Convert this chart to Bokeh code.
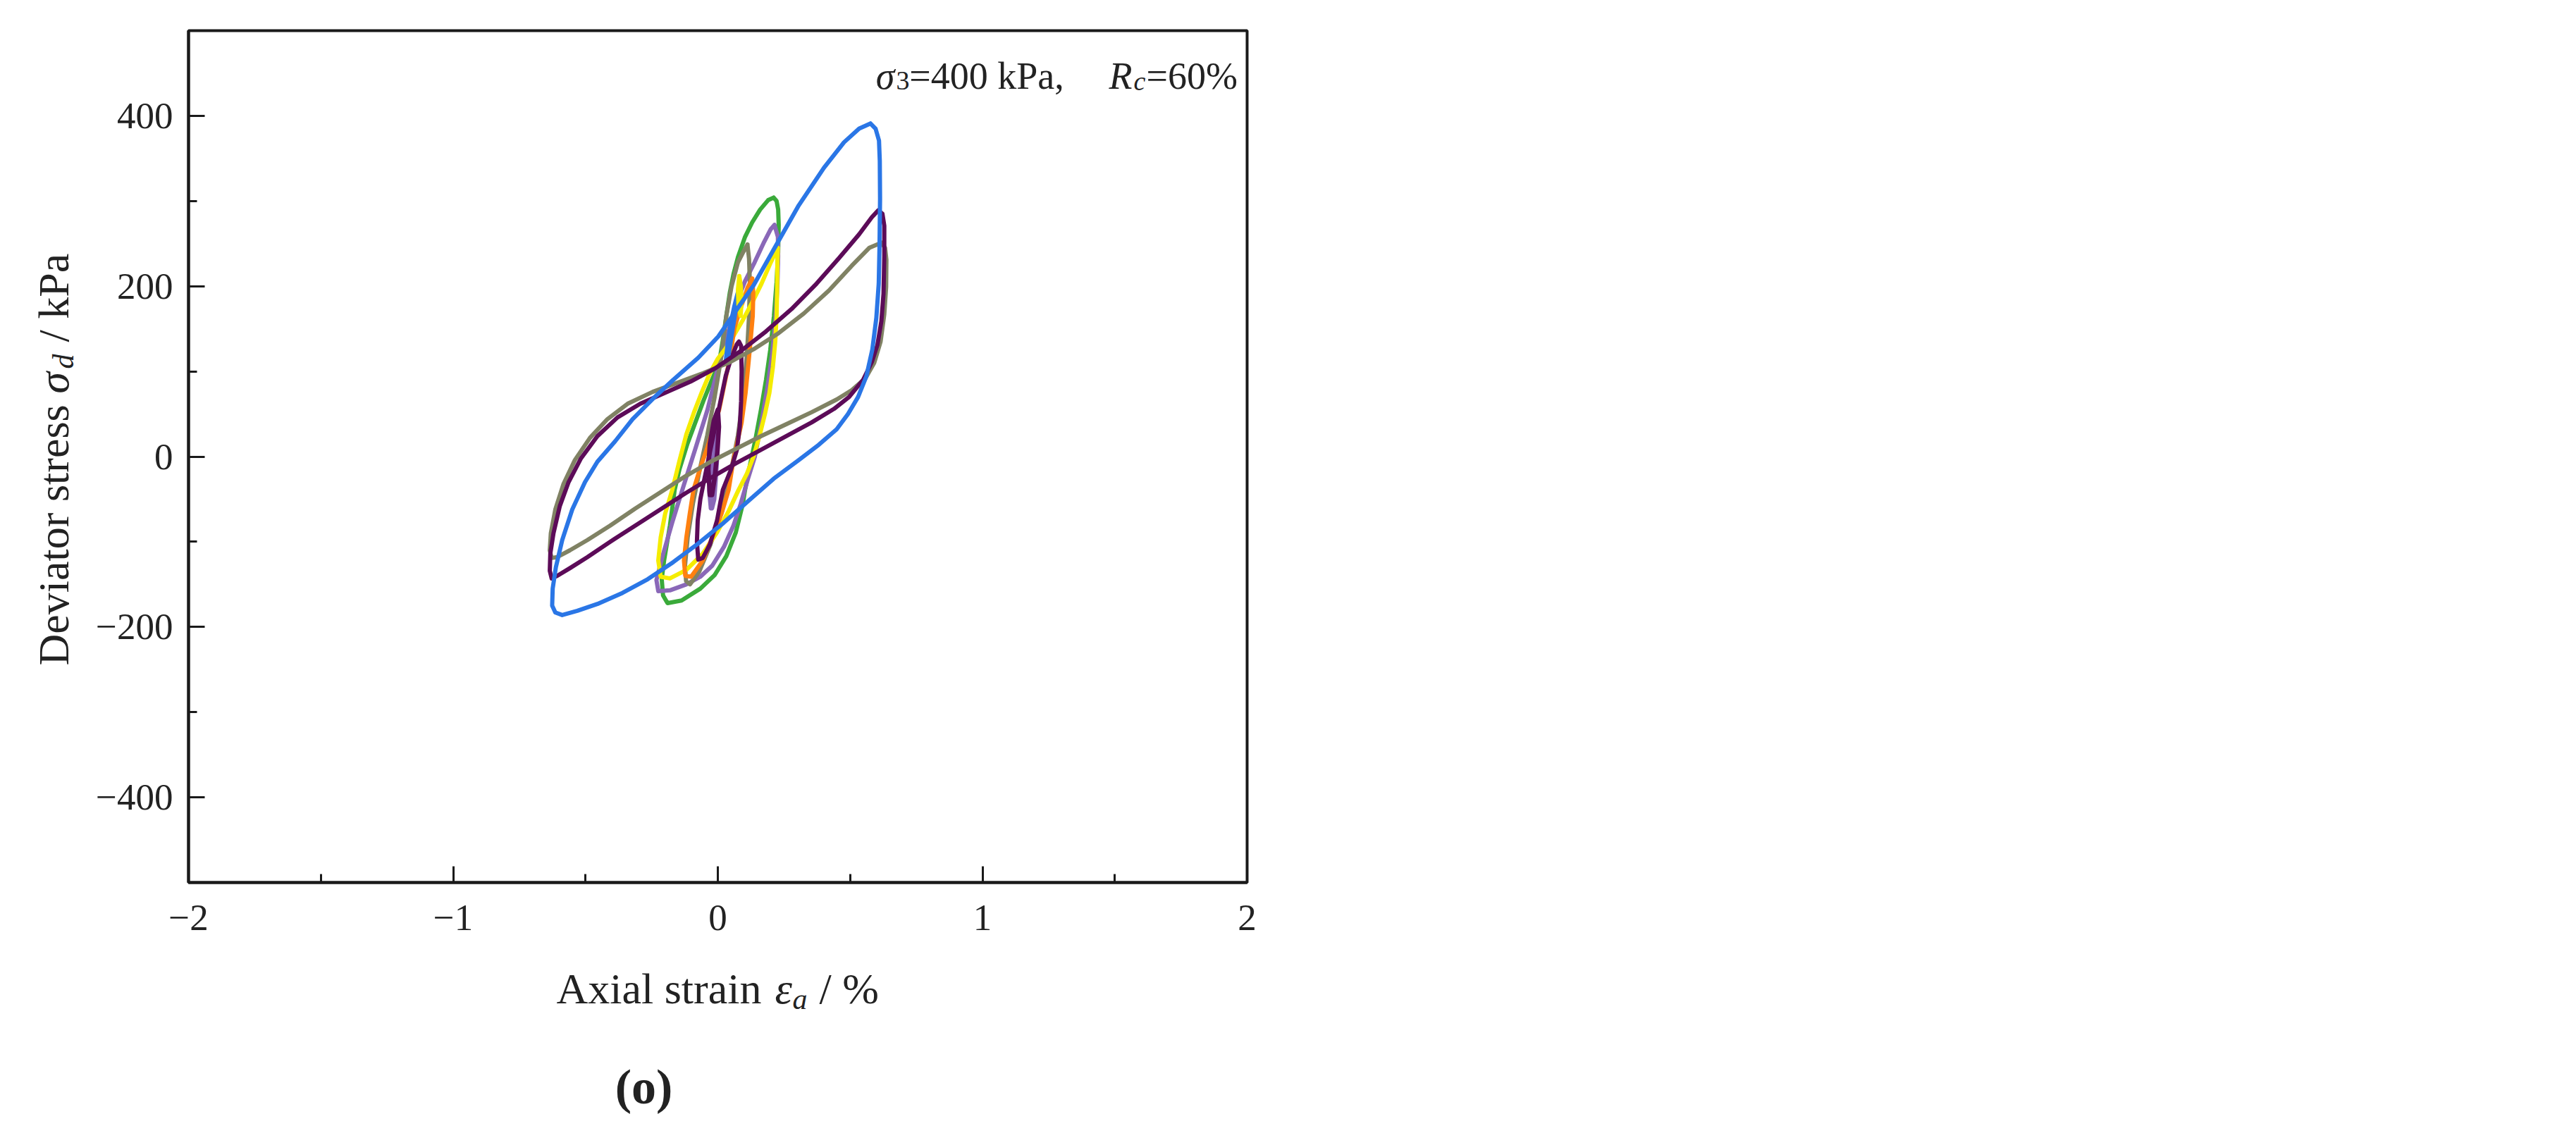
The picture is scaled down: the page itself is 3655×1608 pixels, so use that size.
import numpy as np
from bokeh.plotting import figure
from bokeh.models import Range1d, FixedTicker, Label
from bokeh.layouts import row, column
from bokeh.embed import file_html
from bokeh.resources import INLINE

# ---- data: closed hysteresis loops (axial strain %, deviator stress kPa) ----
blue_loop = [(0.577,391),(0.596,385),(0.609,371),(0.612,347),(0.613,303),(0.611,247),(0.608,203),
             (0.599,163),(0.584,126),(0.561,94),(0.530,70),(0.492,50),(0.449,32),(0.382,14),(0.306,-4),
             (0.211,-26),(0.116,-52),(0.021,-78),(-0.074,-102),(-0.169,-124),(-0.265,-144),(-0.360,-160),
             (-0.455,-173),(-0.531,-181),(-0.588,-186),(-0.614,-183),(-0.626,-175),(-0.624,-155),
             (-0.612,-130),(-0.588,-98),(-0.550,-62),(-0.502,-30),(-0.455,-6),(-0.388,18),(-0.322,44),
             (-0.245,68),(-0.169,90),(-0.074,116),(0.002,141),(0.068,171),(0.135,201),(0.211,243),
             (0.306,295),(0.401,339),(0.477,369),(0.534,385),(0.577,391)]
purple_loop = [(0.606,289),(0.622,285),(0.629,271),(0.629,235),(0.626,191),(0.618,159),(0.603,131),
               (0.582,111),(0.549,90),(0.496,70),(0.439,56),(0.354,40),(0.259,24),(0.163,8),(0.068,-8),
               (-0.027,-25),(-0.122,-43),(-0.217,-62),(-0.312,-81),(-0.407,-100),(-0.493,-118),
               (-0.559,-131),(-0.607,-140),(-0.628,-143),(-0.635,-134),(-0.633,-114),(-0.621,-90),
               (-0.597,-58),(-0.564,-30),(-0.517,-2),(-0.455,24),(-0.379,46),(-0.293,62),(-0.198,75),
               (-0.103,88),(-0.008,104),(0.087,124),(0.182,147),(0.278,173),(0.373,203),(0.458,233),
               (0.534,261),(0.582,281),(0.606,289)]
olive_loop = [(0.618,251),(0.632,245),(0.637,231),(0.636,199),(0.629,167),(0.615,135),(0.591,110),
              (0.558,92),(0.506,78),(0.449,67),(0.354,52),(0.259,38),(0.163,24),(0.068,9),(-0.027,-6),
              (-0.122,-23),(-0.217,-42),(-0.312,-61),(-0.407,-81),(-0.493,-98),(-0.559,-110),
              (-0.607,-118),(-0.628,-119),(-0.635,-110),(-0.631,-90),(-0.614,-62),(-0.583,-32),
              (-0.540,-4),(-0.483,22),(-0.417,44),(-0.341,62),(-0.246,76),(-0.150,87),(-0.055,98),
              (0.040,110),(0.135,126),(0.230,145),(0.325,168),(0.420,195),(0.506,224),(0.572,245),
              (0.618,251)]
green_loop = [(0.211,304),(0.222,300),(0.228,290),(0.230,272),(0.228,240),(0.222,205),(0.212,165),
              (0.198,125),(0.182,90),(0.163,55),(0.142,20),(0.120,-12),(0.103,-39),(0.094,-56),
              (0.068,-89),(0.032,-117),(-0.012,-139),(-0.066,-155),(-0.137,-169),(-0.190,-172),
              (-0.207,-163),(-0.212,-144),(-0.203,-122),(-0.181,-81),(-0.163,-39),(-0.145,-15),
              (-0.115,15),(-0.085,40),(-0.055,65),(-0.025,88),(0.005,110),(0.019,137),(0.032,165),
              (0.045,192),(0.059,214),(0.076,234),(0.103,258),(0.130,275),(0.160,290),(0.190,301),
              (0.211,304)]
lavender_loop = [(0.214,272),(0.227,258),(0.228,235),(0.225,200),(0.218,160),(0.205,120),(0.187,80),
                 (0.165,40),(0.140,0),(0.115,-25),(0.086,-56),(0.059,-81),(0.023,-106),(-0.021,-128),
                 (-0.066,-141),(-0.119,-150),(-0.181,-157),(-0.225,-158),(-0.232,-145),(-0.208,-116),
                 (-0.172,-77),(-0.128,-33),(-0.083,11),(-0.039,55),(-0.003,100),(0.032,138),
                 (0.059,168),(0.080,188),(0.103,206),(0.139,228),(0.175,252),(0.200,267),(0.214,272)]
yellow_loop = [(0.227,245),(0.225,225),(0.224,195),(0.222,165),(0.217,135),(0.208,105),(0.195,75),
               (0.178,50),(0.158,25),(0.135,0),(0.110,-20),(0.077,-40),(0.041,-64),(-0.003,-89),
               (-0.057,-114),(-0.119,-133),(-0.181,-143),(-0.216,-141),(-0.225,-122),(-0.216,-95),
               (-0.199,-67),(-0.172,-39),(-0.145,-5),(-0.119,26),(-0.090,52),(-0.060,76),(-0.030,98),
               (0.000,115),(0.032,128),(0.060,142),(0.094,160),(0.130,181),(0.165,203),(0.200,228),
               (0.220,241),(0.227,245)]
orange_loop = [(0.130,209),(0.134,192),(0.132,165),(0.124,137),(0.116,110),(0.105,75),(0.090,40),
               (0.059,-4),(0.041,-39),(0.014,-67),(-0.021,-95),(-0.057,-122),(-0.101,-141),
               (-0.123,-140),(-0.128,-122),(-0.119,-95),(-0.106,-67),(-0.092,-39),(-0.065,-12),
               (-0.039,11),(-0.015,35),(0.005,55),(0.025,85),(0.045,115),(0.063,151),(0.085,173),
               (0.112,198),(0.130,209)]
olive_inner = [(0.112,249),(0.118,232),(0.121,205),(0.118,165),(0.110,120),(0.096,70),(0.076,25),
               (0.048,-20),(0.015,-65),(-0.030,-105),(-0.070,-135),(-0.105,-150),(-0.120,-146),
               (-0.124,-128),(-0.114,-95),(-0.094,-55),(-0.068,-15),(-0.040,25),(-0.012,70),
               (0.012,115),(0.032,165),(0.052,200),(0.076,228),(0.094,239),(0.112,249)]
purple_inner = [(0.080,135),(0.088,130),(0.090,100),(0.088,65),(0.083,35),(0.072,8),(0.050,-15),
                (0.019,-39),(0.010,-53),(-0.003,-75),(-0.030,-103),(-0.057,-119),(-0.074,-121),
                (-0.079,-100),(-0.076,-75),(-0.066,-50),(-0.050,-25),(-0.030,5),(-0.010,35),
                (0.010,65),(0.030,95),(0.050,115),(0.072,132),(0.080,135)]
purple_small = [(-0.030,-45),(-0.036,-15),(-0.030,15),(-0.015,42),(0.000,55),(0.004,35),(-0.002,5),
                (-0.012,-25),(-0.022,-45),(-0.030,-45)]
lavender_small = [(-0.024,-60),(-0.030,-40),(-0.025,-10),(-0.012,15),(-0.002,28),(-0.004,5),
                  (-0.010,-25),(-0.016,-50),(-0.024,-60)]
blue_small = [(0.075,192),(0.062,176),(0.050,158),(0.038,135),(0.030,112),(0.040,118),(0.052,142),
              (0.064,165),(0.075,192)]
yellow_small = [(0.081,212),(0.076,196),(0.078,178),(0.086,165),(0.090,182),(0.087,200),(0.081,212)]

x_ticks = [-2, -1, 0, 1, 2]
x_minor = [-1.5, -0.5, 0.5, 1.5]
y_ticks = [-400, -200, 0, 200, 400]
y_minor = [-300, -100, 100, 300]

C_BLUE = "#2a76e6"
C_PURPLE = "#5c0b58"
C_OLIVE = "#808264"
C_GREEN = "#3aaa3a"
C_LAV = "#8a68b8"
C_YEL = "#f5ec00"
C_ORA = "#ff8010"

FONT = "Liberation Serif"
TXT = "#222222"

# ---- layout geometry (canvas pixels) ----
YW = 125            # width of left title strip
FL, FT = 142, 43    # main frame offsets inside main figure
FW, FH = 1502, 1209
MB_B, MB_R = 100, 60
MAIN_H = FT + FH + MB_B
TOTAL_H = 1590
MAIN_W = FL + FW + MB_R
XS, YS = -143, -16  # placement correction for the bottom strip
YX = -23            # placement correction for the left strip

p = figure(frame_width=FW, frame_height=FH,
           min_border_left=FL, min_border_right=MB_R, min_border_top=FT, min_border_bottom=MB_B,
           x_range=Range1d(-2, 2), y_range=Range1d(-500, 500),
           output_backend="svg", toolbar_location=None)
p.background_fill_color = "white"
p.border_fill_color = "white"
p.xgrid.visible = False
p.ygrid.visible = False
p.outline_line_color = "#1a1a1a"
p.outline_line_width = 4

def draw(loop, color, width=6):
    xs = [a for a, b in loop]
    ys = [b for a, b in loop]
    p.line(xs, ys, line_color=color, line_width=width, line_join="round", line_cap="round")

draw(green_loop, C_GREEN)
draw(lavender_loop, C_LAV)
draw(olive_inner, C_OLIVE)
draw(yellow_loop, C_YEL)
draw(orange_loop, C_ORA)
draw(lavender_small, C_LAV, 8)
draw(purple_inner, C_PURPLE)
draw(purple_small, C_PURPLE, 6.5)
draw(blue_small, C_BLUE)
draw(yellow_small, C_YEL)
draw(olive_loop, C_OLIVE)
draw(purple_loop, C_PURPLE)
draw(blue_loop, C_BLUE)

for ax, ticks, minor in ((p.xaxis, x_ticks, x_minor), (p.yaxis, y_ticks, y_minor)):
    ax.ticker = FixedTicker(ticks=ticks, minor_ticks=minor)
    ax.axis_line_width = 4
    ax.axis_line_color = "#1a1a1a"
    ax.major_tick_in = 23
    ax.major_tick_out = 0
    ax.minor_tick_in = 12
    ax.minor_tick_out = 0
    ax.major_tick_line_width = 3
    ax.minor_tick_line_width = 3
    ax.major_tick_line_color = "#1a1a1a"
    ax.minor_tick_line_color = "#1a1a1a"
    ax.major_label_text_font = FONT
    ax.major_label_text_font_size = "53px"
    ax.major_label_text_color = TXT
    ax.major_label_overrides = {t: (str(t).replace("-", "\u2212")) for t in ticks}

p.xaxis.major_label_standoff = 32
p.yaxis.major_label_standoff = 22

def mk_label(fig, x, y, text, size, style="normal", angle=0.0, align="left"):
    fig.add_layout(Label(x=x, y=y, x_units="data", y_units="data", text=text,
                         text_font=FONT, text_font_size=size, text_font_style=style,
                         text_color=TXT, text_baseline="alphabetic", text_align=align,
                         angle=angle))

# annotation inside the frame (data coordinates)
mk_label(p, 0.597, 447, "\u03c3", "54px", "italic")
mk_label(p, 0.674, 441, "3", "38px")
mk_label(p, 0.724, 447, "=400 kPa,", "54px")
mk_label(p, 1.478, 447, "R", "54px", "italic")
mk_label(p, 1.571, 441, "c", "38px", "italic")
mk_label(p, 1.619, 447, "=60%", "54px")

def text_fig(w, h, xr, yr):
    f = figure(frame_width=w, frame_height=h, min_border=0,
               x_range=Range1d(*xr), y_range=Range1d(*yr),
               x_axis_type=None, y_axis_type=None,
               output_backend="svg", toolbar_location=None)
    f.outline_line_color = None
    f.xgrid.visible = False
    f.ygrid.visible = False
    f.background_fill_color = "white"
    f.border_fill_color = "white"
    return f

# left strip: y-axis title, coordinates = canvas pixels (y downward)
yfig = text_fig(YW, MAIN_H, (0, YW), (MAIN_H, 0))
R = np.pi / 2
mk_label(yfig, 98 + YX, 944, "Deviator stress", "62px", angle=R)
mk_label(yfig, 98 + YX, 558, "\u03c3", "62px", "italic", angle=R)
mk_label(yfig, 112 + YX, 523, "d", "42px", "italic", angle=R)
mk_label(yfig, 98 + YX, 485, "/ kPa", "62px", angle=R)

# bottom strip: x-axis title and panel label
xfig = text_fig(MAIN_W, TOTAL_H - MAIN_H, (YW, YW + MAIN_W), (TOTAL_H, MAIN_H))
mk_label(xfig, 790 + XS, 1418 + YS, "Axial strain", "62px")
mk_label(xfig, 1100 + XS, 1418 + YS, "\u03b5", "62px", "italic")
mk_label(xfig, 1125 + XS, 1433 + YS, "a", "42px", "italic")
mk_label(xfig, 1163 + XS, 1418 + YS, "/ %", "62px")
mk_label(xfig, 914 + XS, 1558 + YS, "(o)", "70px", "bold", align="center")

layout = row(yfig, column(p, xfig, spacing=0), spacing=0)

open("out.html", "w").write(file_html(layout, INLINE))
